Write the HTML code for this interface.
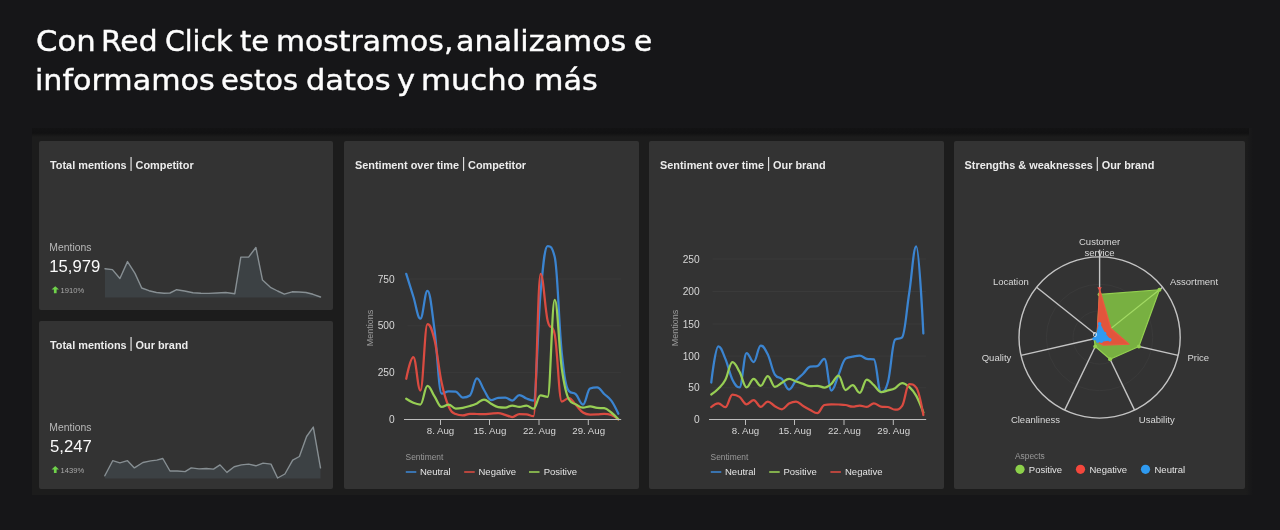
<!DOCTYPE html>
<html lang="es">
<head>
<meta charset="utf-8">
<title>Red Click</title>
<style>
html,body{margin:0;padding:0;}
body{width:1280px;height:530px;background:#161618;overflow:hidden;position:relative;font-family:"Liberation Sans",sans-serif;color:#fff;}
h1{position:absolute;left:0;top:0;margin:0;font-weight:400;font-family:"DejaVu Sans","Liberation Sans",sans-serif;font-size:28.2px;line-height:40px;color:#fdfdfd;white-space:nowrap;}
h1 span{position:absolute;transform-origin:0 0;-webkit-text-stroke:0.4px #fdfdfd;}
.panel{position:absolute;left:32px;top:128px;width:1221px;height:367px;background:linear-gradient(to right,#1c1c1c 0,#1c1c1c 1214px,#161618 1221px);}
.card{position:absolute;background:#333333;border-radius:2px;}
.title{position:absolute;left:11px;top:18px;font-size:10.9px;font-weight:700;color:#ececec;white-space:nowrap;}
.sep{font-weight:400;font-size:14px;line-height:10px;position:relative;top:-0.7px;margin:0 -0.4px;color:#dcdcdc;}
.lbl{position:absolute;font-size:10.4px;color:#b9b9b9;white-space:nowrap;}
.big{position:absolute;font-size:16.7px;color:#fafafa;white-space:nowrap;}
.chg{position:absolute;font-size:7.6px;color:#a9a9a9;white-space:nowrap;}
svg{position:absolute;left:0;top:0;overflow:visible;}
svg text{font-family:"Liberation Sans",sans-serif;}
</style>
</head>
<body>
<h1><span style="left:35.91px;top:21.90px;letter-spacing:0.00px;transform:scaleX(1.091)">Con</span> <span style="left:101.08px;top:21.90px;letter-spacing:0.00px;transform:scaleX(1.057)">Red</span> <span style="left:164.75px;top:21.90px;letter-spacing:0.00px;transform:scaleX(1.004)">Click</span> <span style="left:239.72px;top:21.90px;letter-spacing:0.00px;transform:scaleX(1.029)">te</span> <span style="left:275.88px;top:21.90px;letter-spacing:-0.00px;transform:scaleX(1.058)">mostramos,</span> <span style="left:456.37px;top:21.90px;letter-spacing:0.00px;transform:scaleX(1.067)">analizamos</span> <span style="left:633.95px;top:21.90px;letter-spacing:0.00px;transform:scaleX(1.050)">e</span> <span style="left:35.16px;top:61.40px;letter-spacing:0.00px;transform:scaleX(1.069)">informamos</span> <span style="left:221.47px;top:61.40px;letter-spacing:-0.00px;transform:scaleX(1.027)">estos</span> <span style="left:305.92px;top:61.40px;letter-spacing:0.00px;transform:scaleX(1.082)">datos</span> <span style="left:396.92px;top:61.40px;letter-spacing:0.00px;transform:scaleX(1.083)">y</span> <span style="left:421.07px;top:61.40px;letter-spacing:0.00px;transform:scaleX(1.089)">mucho</span> <span style="left:534.11px;top:61.40px;letter-spacing:0.00px;transform:scaleX(1.071)">más</span></h1>
<div class="panel"><div style="position:absolute;left:0;top:0;width:1217px;height:9px;background:linear-gradient(to bottom,#131314 0,#111112 5px,#1c1c1c 9px)"></div></div>

<div class="card" id="c1" style="left:39px;top:141px;width:294px;height:169.3px;">
  <div class="title">Total mentions <span class="sep">|</span> Competitor</div>
  <div class="lbl" style="left:10.3px;top:101px;">Mentions</div>
  <div class="big" style="left:10.2px;top:116.2px;">15,979</div>
  <div class="chg" style="left:21.6px;top:144.6px;">1910%</div>
</div>

<div class="card" id="c2" style="left:39px;top:321.1px;width:294px;height:167.9px;">
  <div class="title">Total mentions <span class="sep">|</span> Our brand</div>
  <div class="lbl" style="left:10.3px;top:101px;">Mentions</div>
  <div class="big" style="left:11px;top:116.2px;">5,247</div>
  <div class="chg" style="left:21.6px;top:144.6px;">1439%</div>
</div>

<div class="card" id="c3" style="left:344px;top:141px;width:294.5px;height:348px;">
  <div class="title">Sentiment over time <span class="sep">|</span> Competitor</div>
</div>

<div class="card" id="c4" style="left:649px;top:141px;width:294.5px;height:348px;">
  <div class="title">Sentiment over time <span class="sep">|</span> Our brand</div>
</div>

<div class="card" id="c5" style="left:953.5px;top:141px;width:291.5px;height:348px;">
  <div class="title">Strengths &amp; weaknesses <span class="sep">|</span> Our brand</div>
</div>

<svg id="ov" width="1280" height="530" viewBox="0 0 1280 530">
<path d="M105.00 268.80L112.40 269.60L119.90 278.50L127.50 261.60L135.00 273.40L141.70 288.00L149.00 290.70L156.50 292.50L164.00 293.20L170.00 293.00L176.70 289.70L184.50 291.00L193.00 292.80L201.00 293.30L208.70 293.40L217.00 293.00L225.70 292.50L234.80 293.70L240.80 257.10L248.60 257.10L255.90 247.50L262.50 280.10L270.40 287.30L277.60 291.00L284.30 294.20L292.10 291.80L299.00 292.00L306.00 292.50L313.00 294.30L320.50 297.00L320.50 297.5L105.00 297.5Z" fill="#3c4144"/>
<path d="M105.00 268.80L112.40 269.60L119.90 278.50L127.50 261.60L135.00 273.40L141.70 288.00L149.00 290.70L156.50 292.50L164.00 293.20L170.00 293.00L176.70 289.70L184.50 291.00L193.00 292.80L201.00 293.30L208.70 293.40L217.00 293.00L225.70 292.50L234.80 293.70L240.80 257.10L248.60 257.10L255.90 247.50L262.50 280.10L270.40 287.30L277.60 291.00L284.30 294.20L292.10 291.80L299.00 292.00L306.00 292.50L313.00 294.30L320.50 297.00" fill="none" stroke="#878f93" stroke-width="1.4" stroke-linejoin="round" stroke-linecap="round"/>
<path d="M104.80 475.80L112.70 460.70L119.90 462.90L127.50 460.70L134.40 467.90L142.90 462.50L150.70 460.90L156.80 460.10L162.80 458.50L170.00 471.00L177.30 471.00L185.10 471.60L191.20 467.90L199.00 468.90L206.30 468.50L213.50 469.10L220.00 464.90L226.90 472.40L234.20 466.70L241.40 464.90L248.60 464.10L255.90 465.80L263.10 463.10L271.00 464.10L277.60 478.00L284.90 474.00L292.70 460.10L299.40 456.50L306.60 436.50L313.30 427.10L320.50 467.90L320.50 478.5L104.80 478.5Z" fill="#3c4144"/>
<path d="M104.80 475.80L112.70 460.70L119.90 462.90L127.50 460.70L134.40 467.90L142.90 462.50L150.70 460.90L156.80 460.10L162.80 458.50L170.00 471.00L177.30 471.00L185.10 471.60L191.20 467.90L199.00 468.90L206.30 468.50L213.50 469.10L220.00 464.90L226.90 472.40L234.20 466.70L241.40 464.90L248.60 464.10L255.90 465.80L263.10 463.10L271.00 464.10L277.60 478.00L284.90 474.00L292.70 460.10L299.40 456.50L306.60 436.50L313.30 427.10L320.50 467.90" fill="none" stroke="#878f93" stroke-width="1.4" stroke-linejoin="round" stroke-linecap="round"/>
<path d="M55.25 286.25L59 289.55L56.6 289.55L56.6 293.25L53.9 293.25L53.9 289.55L51.5 289.55Z" fill="#6fd24a"/>
<path d="M55.25 466.1L59 469.40000000000003L56.6 469.40000000000003L56.6 473.1L53.9 473.1L53.9 469.40000000000003L51.5 469.40000000000003Z" fill="#6fd24a"/>
<path d="M407.5 372.6H621.2" stroke="#3a3a3a" stroke-width="1"/>
<path d="M407.5 325.8H621.2" stroke="#3a3a3a" stroke-width="1"/>
<path d="M407.5 279H621.2" stroke="#3a3a3a" stroke-width="1"/>
<text x="394.7" y="423.1" text-anchor="end" font-size="10.2" fill="#d6d6d6">0</text>
<text x="394.7" y="376.20000000000005" text-anchor="end" font-size="10.2" fill="#d6d6d6">250</text>
<text x="394.7" y="329.40000000000003" text-anchor="end" font-size="10.2" fill="#d6d6d6">500</text>
<text x="394.7" y="282.6" text-anchor="end" font-size="10.2" fill="#d6d6d6">750</text>
<text transform="translate(372.6 328) rotate(-90)" text-anchor="middle" font-size="9" fill="#9a9a9a">Mentions</text>
<path d="M406.25 273.80C406.25 273.80 410.49 287.54 413.32 296.50C416.15 305.46 417.56 318.60 420.39 318.60C423.22 318.60 424.63 290.80 427.46 290.80C430.29 290.80 431.70 309.46 434.53 330.00C437.36 350.54 438.77 393.50 441.60 393.50C444.43 393.50 445.84 391.30 448.67 391.30C451.50 391.30 452.91 391.30 455.74 391.70C458.57 392.10 459.98 397.50 462.81 397.50C465.64 397.50 467.05 397.50 469.88 395.50C472.71 393.50 474.12 378.25 476.95 378.25C479.78 378.25 481.19 385.65 484.02 390.00C486.85 394.35 488.26 400.00 491.09 400.00C493.92 400.00 495.33 398.10 498.16 397.80C500.99 397.50 502.40 397.50 505.23 397.50C508.06 397.50 509.47 400.50 512.30 400.50C515.13 400.50 516.54 395.00 519.37 395.00C522.20 395.00 523.61 397.40 526.44 398.50C529.27 399.60 530.68 400.50 533.51 400.50C536.34 400.50 537.75 323.60 540.58 292.70C543.41 261.80 544.82 246.00 547.65 246.00C550.48 246.00 551.89 246.00 554.72 257.00C557.55 268.00 558.96 326.20 561.79 353.00C564.62 379.80 566.03 387.60 568.86 391.00C571.69 394.40 573.10 391.70 575.93 394.40C578.76 397.10 580.17 404.50 583.00 404.50C585.83 404.50 587.24 389.70 590.07 388.50C592.90 387.30 594.31 387.30 597.14 387.30C599.97 387.30 601.38 391.32 604.21 394.00C607.04 396.68 608.45 396.75 611.28 400.70C614.11 404.65 618.35 413.75 618.35 413.75" fill="none" stroke="#3b84d0" stroke-width="2.25" stroke-linejoin="round" stroke-linecap="round"/>
<path d="M406.25 378.75C406.25 378.75 410.49 357.00 413.32 357.00C416.15 357.00 417.56 390.50 420.39 390.50C423.22 390.50 424.63 324.00 427.46 324.00C430.29 324.00 431.70 328.30 434.53 340.00C437.36 351.70 438.77 369.20 441.60 382.50C444.43 395.80 445.84 400.18 448.67 406.50C451.50 412.82 452.91 412.80 455.74 414.10C458.57 415.40 459.98 415.40 462.81 415.40C465.64 415.40 467.05 413.80 469.88 413.80C472.71 413.80 474.12 413.92 476.95 414.00C479.78 414.08 481.19 414.20 484.02 414.20C486.85 414.20 488.26 413.80 491.09 413.60C493.92 413.40 495.33 413.20 498.16 413.20C500.99 413.20 502.40 414.04 505.23 414.80C508.06 415.56 509.47 417.00 512.30 417.00C515.13 417.00 516.54 414.00 519.37 414.00C522.20 414.00 523.61 414.00 526.44 414.30C529.27 414.60 530.68 416.20 533.51 416.20C536.34 416.20 537.75 273.80 540.58 273.80C543.41 273.80 544.82 308.56 547.65 320.70C550.48 332.84 551.89 320.70 554.72 334.50C557.55 348.30 558.96 401.50 561.79 401.50C564.62 401.50 566.03 398.00 568.86 398.00C571.69 398.00 573.10 402.10 575.93 405.00C578.76 407.90 580.17 410.60 583.00 412.50C585.83 414.40 587.24 414.50 590.07 414.50C592.90 414.50 594.31 414.50 597.14 414.40C599.97 414.30 601.38 413.80 604.21 413.80C607.04 413.80 608.45 413.90 611.28 415.00C614.11 416.10 618.35 419.30 618.35 419.30" fill="none" stroke="#da4b41" stroke-width="2.25" stroke-linejoin="round" stroke-linecap="round"/>
<path d="M406.25 398.75C406.25 398.75 410.49 401.65 413.32 402.80C416.15 403.95 417.56 404.50 420.39 404.50C423.22 404.50 424.63 385.75 427.46 385.75C430.29 385.75 431.70 392.17 434.53 396.40C437.36 400.63 438.77 406.90 441.60 406.90C444.43 406.90 445.84 404.50 448.67 404.50C451.50 404.50 452.91 408.50 455.74 408.50C458.57 408.50 459.98 408.30 462.81 407.80C465.64 407.30 467.05 406.88 469.88 406.00C472.71 405.12 474.12 404.70 476.95 403.40C479.78 402.10 481.19 399.50 484.02 399.50C486.85 399.50 488.26 402.18 491.09 403.70C493.92 405.22 495.33 406.60 498.16 407.10C500.99 407.60 502.40 407.60 505.23 407.60C508.06 407.60 509.47 405.50 512.30 405.50C515.13 405.50 516.54 406.90 519.37 406.90C522.20 406.90 523.61 405.50 526.44 405.50C529.27 405.50 530.68 408.70 533.51 408.70C536.34 408.70 537.75 395.40 540.58 395.40C543.41 395.40 544.82 396.80 547.65 396.80C550.48 396.80 551.89 299.75 554.72 299.75C557.55 299.75 558.96 348.69 561.79 368.60C564.62 388.51 566.03 394.20 568.86 399.30C571.69 404.40 573.10 402.72 575.93 404.40C578.76 406.08 580.17 407.70 583.00 407.70C585.83 407.70 587.24 406.30 590.07 406.30C592.90 406.30 594.31 407.60 597.14 407.90C599.97 408.20 601.38 407.90 604.21 408.20C607.04 408.50 608.45 410.30 611.28 412.50C614.11 414.70 618.35 419.20 618.35 419.20" fill="none" stroke="#97ce54" stroke-width="2.25" stroke-linejoin="round" stroke-linecap="round"/>
<path d="M404 419.5H621.2" stroke="#bdbdbd" stroke-width="1"/>
<path d="M440.5 419.5V425" stroke="#bdbdbd" stroke-width="1"/>
<text x="440.5" y="434.0" text-anchor="middle" font-size="9.7" fill="#d6d6d6">8. Aug</text>
<path d="M489.5 419.5V425" stroke="#bdbdbd" stroke-width="1"/>
<text x="489.9" y="434.0" text-anchor="middle" font-size="9.7" fill="#d6d6d6">15. Aug</text>
<path d="M539.0 419.5V425" stroke="#bdbdbd" stroke-width="1"/>
<text x="539.4" y="434.0" text-anchor="middle" font-size="9.7" fill="#d6d6d6">22. Aug</text>
<path d="M588.3 419.5V425" stroke="#bdbdbd" stroke-width="1"/>
<text x="588.6999999999999" y="434.0" text-anchor="middle" font-size="9.7" fill="#d6d6d6">29. Aug</text>
<text x="405.6" y="460.4" font-size="8.4" fill="#9a9a9a">Sentiment</text>
<path d="M405.8 472H416.3" stroke="#3b84d0" stroke-width="1.6"/>
<text x="420" y="474.8" font-size="9.5" fill="#e4e4e4">Neutral</text>
<path d="M464.2 472H474.7" stroke="#da4b41" stroke-width="1.6"/>
<text x="478.5" y="474.8" font-size="9.5" fill="#e4e4e4">Negative</text>
<path d="M529 472H539.5" stroke="#97ce54" stroke-width="1.6"/>
<text x="543.75" y="474.8" font-size="9.5" fill="#e4e4e4">Positive</text>
<path d="M712.5 387.8H926.2" stroke="#3a3a3a" stroke-width="1"/>
<path d="M712.5 356.1H926.2" stroke="#3a3a3a" stroke-width="1"/>
<path d="M712.5 324H926.2" stroke="#3a3a3a" stroke-width="1"/>
<path d="M712.5 291.5H926.2" stroke="#3a3a3a" stroke-width="1"/>
<path d="M712.5 259H926.2" stroke="#3a3a3a" stroke-width="1"/>
<text x="699.7" y="423.1" text-anchor="end" font-size="10.2" fill="#d6d6d6">0</text>
<text x="699.7" y="391.40000000000003" text-anchor="end" font-size="10.2" fill="#d6d6d6">50</text>
<text x="699.7" y="359.70000000000005" text-anchor="end" font-size="10.2" fill="#d6d6d6">100</text>
<text x="699.7" y="327.6" text-anchor="end" font-size="10.2" fill="#d6d6d6">150</text>
<text x="699.7" y="295.1" text-anchor="end" font-size="10.2" fill="#d6d6d6">200</text>
<text x="699.7" y="262.6" text-anchor="end" font-size="10.2" fill="#d6d6d6">250</text>
<text transform="translate(677.6 328) rotate(-90)" text-anchor="middle" font-size="9" fill="#9a9a9a">Mentions</text>
<path d="M711.25 382.50C711.25 382.50 715.49 346.25 718.32 346.25C721.15 346.25 722.56 352.21 725.39 358.90C728.22 365.59 729.63 374.00 732.46 379.70C735.29 385.40 736.70 387.40 739.53 387.40C742.36 387.40 743.77 353.00 746.60 353.00C749.43 353.00 750.84 362.00 753.67 362.00C756.50 362.00 757.91 345.50 760.74 345.50C763.57 345.50 764.98 348.78 767.81 354.60C770.64 360.42 772.05 370.20 774.88 374.60C777.71 379.00 779.12 376.02 781.95 379.00C784.78 381.98 786.19 389.50 789.02 389.50C791.85 389.50 793.26 383.46 796.09 380.30C798.92 377.14 800.33 376.44 803.16 373.70C805.99 370.96 807.40 367.10 810.23 366.60C813.06 366.10 814.47 366.60 817.30 366.10C820.13 365.60 821.54 358.75 824.37 358.75C827.20 358.75 828.61 390.50 831.44 390.50C834.27 390.50 835.68 381.38 838.51 375.00C841.34 368.62 842.75 360.50 845.58 358.60C848.41 356.70 849.82 357.28 852.65 356.70C855.48 356.12 856.89 355.70 859.72 355.70C862.55 355.70 863.96 358.20 866.79 358.80C869.62 359.40 871.03 358.80 873.86 359.40C876.69 360.00 878.10 392.00 880.93 392.00C883.76 392.00 885.17 392.00 888.00 381.70C890.83 371.40 892.24 342.10 895.07 339.70C897.90 337.30 899.31 339.70 902.14 337.30C904.97 334.90 906.38 311.20 909.21 293.00C912.04 274.80 913.45 246.30 916.28 246.30C919.11 246.30 923.35 333.50 923.35 333.50" fill="none" stroke="#3b84d0" stroke-width="2.25" stroke-linejoin="round" stroke-linecap="round"/>
<path d="M711.25 394.50C711.25 394.50 715.49 391.76 718.32 388.80C721.15 385.84 722.56 385.06 725.39 379.70C728.22 374.34 729.63 362.00 732.46 362.00C735.29 362.00 736.70 366.74 739.53 371.80C742.36 376.86 743.77 387.30 746.60 387.30C749.43 387.30 750.84 378.80 753.67 378.80C756.50 378.80 757.91 385.80 760.74 385.80C763.57 385.80 764.98 376.00 767.81 376.00C770.64 376.00 772.05 386.80 774.88 386.80C777.71 386.80 779.12 384.40 781.95 382.80C784.78 381.20 786.19 378.80 789.02 378.80C791.85 378.80 793.26 380.48 796.09 381.50C798.92 382.52 800.33 382.96 803.16 383.90C805.99 384.84 807.40 386.20 810.23 386.20C813.06 386.20 814.47 385.80 817.30 385.80C820.13 385.80 821.54 387.50 824.37 387.50C827.20 387.50 828.61 386.20 831.44 383.80C834.27 381.40 835.68 375.50 838.51 375.50C841.34 375.50 842.75 390.00 845.58 390.00C848.41 390.00 849.82 385.20 852.65 385.20C855.48 385.20 856.89 392.80 859.72 392.80C862.55 392.80 863.96 379.50 866.79 379.50C869.62 379.50 871.03 382.60 873.86 385.10C876.69 387.60 878.10 392.00 880.93 392.00C883.76 392.00 885.17 391.16 888.00 390.40C890.83 389.64 892.24 389.68 895.07 388.20C897.90 386.72 899.31 383.00 902.14 383.00C904.97 383.00 906.38 384.42 909.21 387.00C912.04 389.58 913.45 390.80 916.28 395.90C919.11 401.00 923.35 412.50 923.35 412.50" fill="none" stroke="#97ce54" stroke-width="2.25" stroke-linejoin="round" stroke-linecap="round"/>
<path d="M711.25 407.00C711.25 407.00 715.49 403.30 718.32 403.30C721.15 403.30 722.56 407.20 725.39 407.20C728.22 407.20 729.63 394.50 732.46 394.50C735.29 394.50 736.70 394.84 739.53 396.80C742.36 398.76 743.77 404.30 746.60 404.30C749.43 404.30 750.84 400.00 753.67 400.00C756.50 400.00 757.91 406.80 760.74 406.80C763.57 406.80 764.98 401.50 767.81 401.50C770.64 401.50 772.05 404.64 774.88 406.20C777.71 407.76 779.12 409.30 781.95 409.30C784.78 409.30 786.19 405.06 789.02 403.50C791.85 401.94 793.26 401.50 796.09 401.50C798.92 401.50 800.33 404.30 803.16 406.00C805.99 407.70 807.40 408.56 810.23 410.00C813.06 411.44 814.47 413.20 817.30 413.20C820.13 413.20 821.54 405.70 824.37 405.00C827.20 404.30 828.61 404.30 831.44 404.30C834.27 404.30 835.68 404.36 838.51 404.50C841.34 404.64 842.75 404.56 845.58 405.00C848.41 405.44 849.82 406.70 852.65 406.70C855.48 406.70 856.89 405.60 859.72 405.60C862.55 405.60 863.96 406.90 866.79 406.90C869.62 406.90 871.03 403.30 873.86 403.30C876.69 403.30 878.10 406.20 880.93 406.60C883.76 407.00 885.17 406.60 888.00 407.00C890.83 407.40 892.24 409.70 895.07 409.70C897.90 409.70 899.31 409.70 902.14 405.80C904.97 401.90 906.38 384.00 909.21 384.00C912.04 384.00 913.45 384.00 916.28 387.60C919.11 391.20 923.35 415.00 923.35 415.00" fill="none" stroke="#da4b41" stroke-width="2.25" stroke-linejoin="round" stroke-linecap="round"/>
<path d="M709 419.5H926.2" stroke="#bdbdbd" stroke-width="1"/>
<path d="M745.5 419.5V425" stroke="#bdbdbd" stroke-width="1"/>
<text x="745.5" y="434.0" text-anchor="middle" font-size="9.7" fill="#d6d6d6">8. Aug</text>
<path d="M794.5 419.5V425" stroke="#bdbdbd" stroke-width="1"/>
<text x="794.9" y="434.0" text-anchor="middle" font-size="9.7" fill="#d6d6d6">15. Aug</text>
<path d="M844.0 419.5V425" stroke="#bdbdbd" stroke-width="1"/>
<text x="844.4" y="434.0" text-anchor="middle" font-size="9.7" fill="#d6d6d6">22. Aug</text>
<path d="M893.3 419.5V425" stroke="#bdbdbd" stroke-width="1"/>
<text x="893.6999999999999" y="434.0" text-anchor="middle" font-size="9.7" fill="#d6d6d6">29. Aug</text>
<text x="710.6" y="460.4" font-size="8.4" fill="#9a9a9a">Sentiment</text>
<path d="M710.8 472H721.3" stroke="#3b84d0" stroke-width="1.6"/>
<text x="725" y="474.8" font-size="9.5" fill="#e4e4e4">Neutral</text>
<path d="M769.2 472H779.7" stroke="#97ce54" stroke-width="1.6"/>
<text x="783.5" y="474.8" font-size="9.5" fill="#e4e4e4">Positive</text>
<path d="M830.4 472H840.9" stroke="#da4b41" stroke-width="1.6"/>
<text x="845" y="474.8" font-size="9.5" fill="#e4e4e4">Negative</text>
<circle cx="1099.6" cy="337.5" r="26.6" fill="none" stroke="#3a3a3a" stroke-width="1"/>
<circle cx="1099.6" cy="337.5" r="53.2" fill="none" stroke="#3a3a3a" stroke-width="1"/>
<circle cx="1099.6" cy="337.5" r="80.6" fill="none" stroke="#c4c4c4" stroke-width="1.4"/>
<path d="M1099.6 337.5L1099.60 249.65" stroke="#c4c4c4" stroke-width="1.4"/>
<path d="M1099.6 337.5L1162.62 287.25" stroke="#c4c4c4" stroke-width="1.4"/>
<path d="M1099.6 337.5L1178.18 355.44" stroke="#c4c4c4" stroke-width="1.4"/>
<path d="M1099.6 337.5L1134.57 410.12" stroke="#c4c4c4" stroke-width="1.4"/>
<path d="M1099.6 337.5L1064.63 410.12" stroke="#c4c4c4" stroke-width="1.4"/>
<path d="M1099.6 337.5L1021.02 355.44" stroke="#c4c4c4" stroke-width="1.4"/>
<path d="M1099.6 337.5L1036.58 287.25" stroke="#c4c4c4" stroke-width="1.4"/>
<path d="M1099.60 294.38L1159.46 289.76L1138.89 346.47L1110.09 359.29L1095.23 346.58L1094.10 338.76L1097.08 335.49Z" fill="#78b041" stroke="#94d050" stroke-width="1.2" stroke-linejoin="round"/>
<path d="M1099.6 337.5L1159.46 289.76" stroke="#a3da64" stroke-width="1.1"/>
<circle cx="1099.60" cy="294.38" r="2" fill="#94d050"/>
<circle cx="1159.46" cy="289.76" r="2" fill="#94d050"/>
<circle cx="1138.89" cy="346.47" r="2" fill="#94d050"/>
<circle cx="1110.09" cy="359.29" r="2" fill="#94d050"/>
<circle cx="1095.23" cy="346.58" r="2" fill="#94d050"/>
<path d="M1099.60 289.14L1110.94 328.45L1129.07 344.23L1103.27 345.12L1097.50 341.86L1095.67 338.40L1097.08 335.49Z" fill="#e2553c" stroke="#ea5a40" stroke-width="1.2" stroke-linejoin="round"/>
<path d="M1097.40 287.14L1101.80 287.14L1099.60 291.34Z" fill="#f0524a"/>
<path d="M1099.60 323.80L1104.64 333.48L1109.82 339.83L1101.35 341.13L1097.85 341.13L1094.10 338.76L1096.45 334.99Z" fill="#2f9af0" stroke="#2f9af0" stroke-width="1.2" stroke-linejoin="round"/>
<circle cx="1099.60" cy="323.80" r="1.8" fill="#2f9af0"/>
<circle cx="1104.64" cy="333.48" r="1.8" fill="#2f9af0"/>
<circle cx="1109.82" cy="339.83" r="1.8" fill="#2f9af0"/>
<circle cx="1101.35" cy="341.13" r="1.8" fill="#2f9af0"/>
<circle cx="1097.85" cy="341.13" r="1.8" fill="#2f9af0"/>
<circle cx="1094.10" cy="338.76" r="1.8" fill="#2f9af0"/>
<circle cx="1096.45" cy="334.99" r="1.8" fill="#2f9af0"/>
<text x="1093" y="336.5" font-size="7" fill="#fff">0</text>
<text x="1099.6" y="245.2" text-anchor="middle" font-size="9.5" fill="#d9d9d9">Customer</text>
<text x="1099.6" y="255.8" text-anchor="middle" font-size="9.5" fill="#d9d9d9">service</text>
<text x="1170" y="285.2" font-size="9.5" fill="#d9d9d9">Assortment</text>
<text x="1187.5" y="361.3" font-size="9.5" fill="#d9d9d9">Price</text>
<text x="1138.8" y="422.8" font-size="9.5" fill="#d9d9d9">Usability</text>
<text x="1060" y="422.8" text-anchor="end" font-size="9.5" fill="#d9d9d9">Cleanliness</text>
<text x="1011.3" y="361.3" text-anchor="end" font-size="9.5" fill="#d9d9d9">Quality</text>
<text x="1028.8" y="285.2" text-anchor="end" font-size="9.5" fill="#d9d9d9">Location</text>
<text x="1015" y="458.7" font-size="8.4" fill="#9a9a9a">Aspects</text>
<circle cx="1020" cy="469.3" r="4.6" fill="#8cd04a"/>
<text x="1028.8" y="472.6" font-size="9.5" fill="#e4e4e4">Positive</text>
<circle cx="1080.5" cy="469.3" r="4.6" fill="#f4473c"/>
<text x="1089.5" y="472.6" font-size="9.5" fill="#e4e4e4">Negative</text>
<circle cx="1145.5" cy="469.3" r="4.6" fill="#2f9af0"/>
<text x="1154.5" y="472.6" font-size="9.5" fill="#e4e4e4">Neutral</text>
</svg>
</body>
</html>
